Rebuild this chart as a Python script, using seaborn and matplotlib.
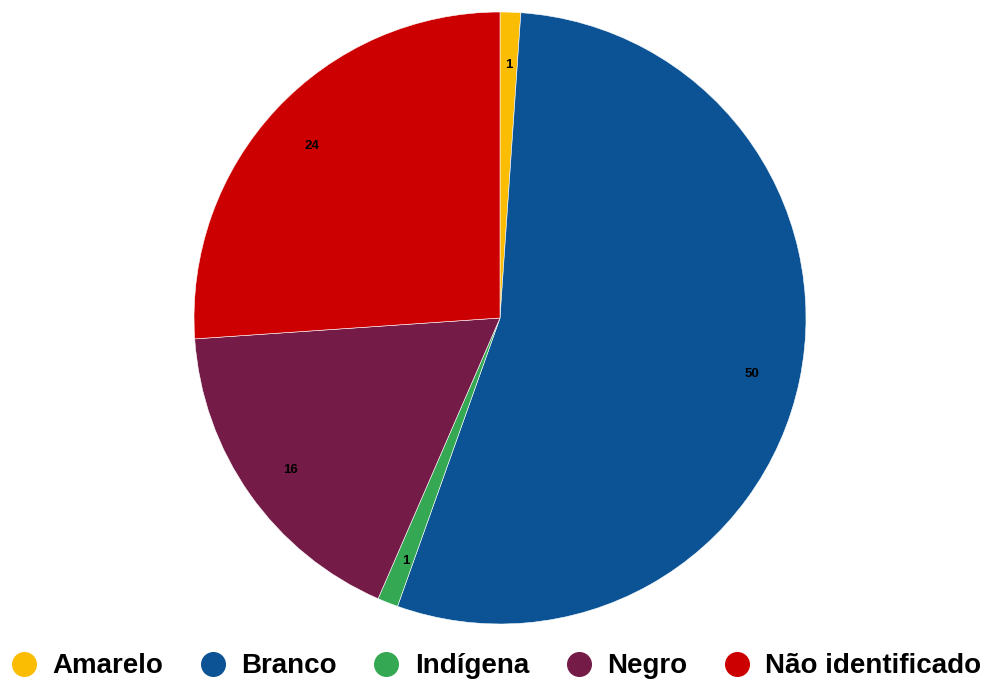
import matplotlib
matplotlib.use("Agg")
import seaborn as sns
from matplotlib import pyplot as plt
from matplotlib.lines import Line2D

# data
categories = ["Amarelo", "Branco", "Indígena", "Negro", "Não identificado"]
values = [1, 50, 1, 16, 24]
colors = ["#FBBC04", "#0B5394", "#34A853", "#741B47", "#CC0000"]

sns.set_theme(style="white")
plt.rcParams['font.family'] = ['Liberation Sans', 'DejaVu Sans']
plt.rcParams['text.color'] = 'black'

palette = sns.color_palette(colors)

fig = plt.figure(figsize=(9.92, 6.8), dpi=100)
cx, cy, r = 500, 318, 306
ax = fig.add_axes([(cx - r) / 992, (680 - cy - r) / 680, 2 * r / 992, 2 * r / 680])

wedges, texts, autotexts = ax.pie(
    values, colors=palette, startangle=90, counterclock=False,
    autopct=lambda p: "%d" % round(p * sum(values) / 100.0),
    pctdistance=0.84, radius=1,
    wedgeprops=dict(edgecolor="white", linewidth=0.4),
    textprops=dict(fontsize=9.5, fontweight="bold", color="black"),
)
for t in autotexts:
    t.set_y(t.get_position()[1] - 0.012)
ax.set_xlim(-1, 1)
ax.set_ylim(-1, 1)
ax.set_aspect("equal")
ax.axis("off")

# legend along the bottom
handles = [Line2D([0], [0], marker="o", linestyle="", markersize=17,
                  markerfacecolor=c, markeredgecolor=c) for c in palette]
leg = fig.legend(handles, categories, loc="lower center", ncol=5, frameon=False,
                 bbox_to_anchor=(0.5, -0.036), handlelength=0.96,
                 handletextpad=0.55, columnspacing=1.3,
                 prop=dict(size=20, weight="bold"))
for t in leg.get_texts():
    t.set_color("black")

fig.savefig("out.png", dpi=100)
